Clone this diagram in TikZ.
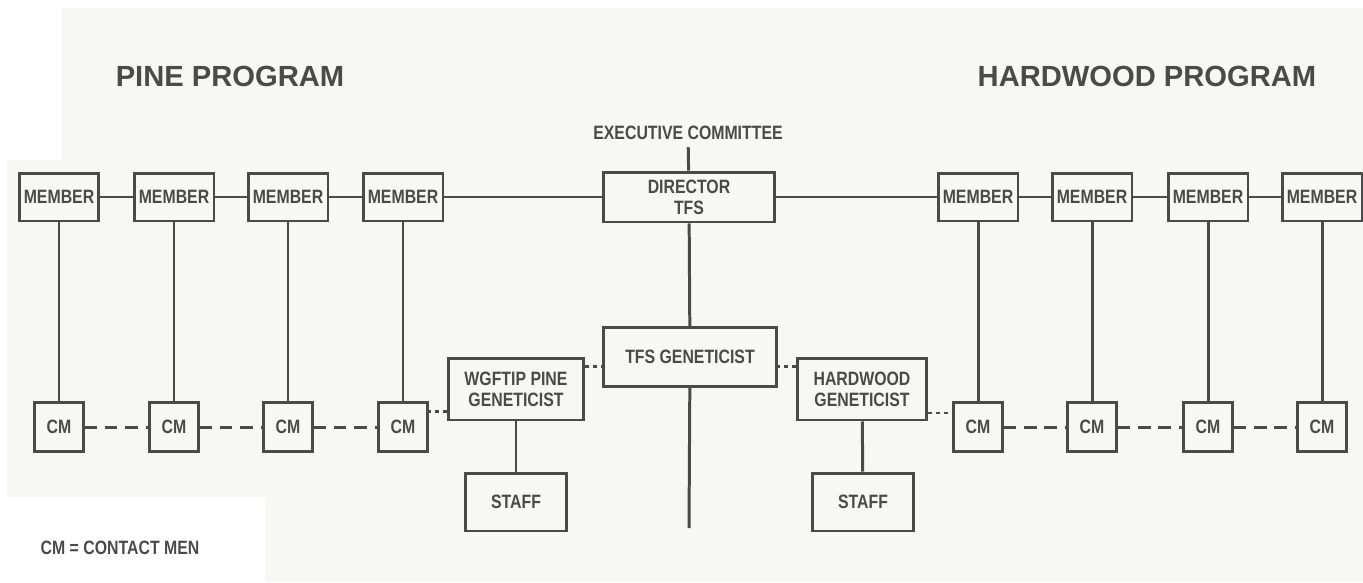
\documentclass[tikz,border=0pt]{standalone}
\usepackage{fontspec}
\setmainfont{Liberation Sans}[FakeStretch=0.82]
\newfontfamily\titlefont{Liberation Sans}
\usepackage{xcolor}
\usepackage{tikz}
\usetikzlibrary{positioning}
\definecolor{ink}{HTML}{4A4A4A}
\definecolor{paper}{HTML}{F7F7F5}

\begin{document}
\begin{tikzpicture}[x=0.02cm, y=-0.02cm, line width=1.7pt, draw=ink,
  box/.style={draw=ink,align=center,text=ink,inner sep=0pt,
  font=\fontsize{11}{12}\selectfont\bfseries,minimum width=1.6cm,minimum height=0.96cm},
  cmbox/.style={box,minimum width=0.98cm,minimum height=0.98cm},
  title/.style={text=ink,font=\titlefont\bfseries\fontsize{16.6}{18}\selectfont},
  cmlink/.style={draw=ink,dash pattern=on 7pt off 4.5pt},
  dotlink/.style={draw=ink,dash pattern=on 2.5pt off 2pt}]
\useasboundingbox (0,0) rectangle (1363,582);
\fill[white] (0,0) rectangle (1363,582);
\fill[paper] (62,8) rectangle (1363,160);
\fill[paper] (7,160) rectangle (1363,497);
\fill[paper] (265,497) rectangle (1363,582);

\node[title] (pt) at (230,76) {PINE PROGRAM};
\node[title] (ht) at (1147,76) {HARDWOOD PROGRAM};
\node[text=ink,font=\fontsize{11}{12}\selectfont\bfseries] (ec) at (688,133) {EXECUTIVE COMMITTEE};

\node[box,minimum width=3.44cm,minimum height=1cm] (dir) at (689,197) {DIRECTOR\\TFS};
\node[box] (m1) at (59,197) {MEMBER};
\node[box] (m2) at (174,197) {MEMBER};
\node[box] (m3) at (288,197) {MEMBER};
\node[box] (m4) at (403,197) {MEMBER};
\node[box] (h1) at (978,197) {MEMBER};
\node[box] (h2) at (1092,197) {MEMBER};
\node[box] (h3) at (1208,197) {MEMBER};
\node[box] (h4) at (1322,197) {MEMBER};

\node[cmbox] (cm1) at (59,427) {CM};
\node[cmbox] (cm2) at (174,427) {CM};
\node[cmbox] (cm3) at (288,427) {CM};
\node[cmbox] (cm4) at (403,427) {CM};
\node[cmbox] (ch1) at (978,427) {CM};
\node[cmbox] (ch2) at (1092,427) {CM};
\node[cmbox] (ch3) at (1208,427) {CM};
\node[cmbox] (ch4) at (1322,427) {CM};

\node[box,minimum width=3.46cm,minimum height=1.18cm] (tgen) at (690,357) {TFS GENETICIST};
\node[box,minimum width=2.7cm,minimum height=1.24cm] (pgen) at (516,389) {WGFTIP PINE\\GENETICIST};
\node[box,minimum width=2.58cm,minimum height=1.24cm] (hgen) at (862,389) {HARDWOOD\\GENETICIST};
\node[box,minimum width=2.02cm,minimum height=1.16cm] (pstaff) at (516,502) {STAFF};
\node[box,minimum width=2.02cm,minimum height=1.16cm] (hstaff) at (863,502) {STAFF};
\coordinate (stem) at (689,528);

\node[text=ink,font=\fontsize{11}{12}\selectfont\bfseries] (note) at (120,548) {CM = CONTACT MEN};

% member line and director
\draw (m1)--(m2); \draw (m2)--(m3); \draw (m3)--(m4); \draw (m4)--(dir);
\draw (dir)--(h1); \draw (h1)--(h2); \draw (h2)--(h3); \draw (h3)--(h4);
\draw (ec)--(dir); \draw (dir)--(tgen); \draw (tgen)--(stem);
\draw (m1)--(cm1); \draw (m2)--(cm2); \draw (m3)--(cm3); \draw (m4)--(cm4);
\draw (h1)--(ch1); \draw (h2)--(ch2); \draw (h3)--(ch3); \draw (h4)--(ch4);
\draw (pgen)--(pstaff); \draw (hgen)--(hstaff);

% contact men
\draw[cmlink] (cm1)--(cm2); \draw[cmlink] (cm2)--(cm3); \draw[cmlink] (cm3)--(cm4);
\draw[cmlink] (ch1)--(ch2); \draw[cmlink] (ch2)--(ch3); \draw[cmlink] (ch3)--(ch4);
\coordinate (pj) at ([yshift=0.2cm]pgen.south west);
\coordinate (hj) at ([yshift=0.17cm]hgen.south east);
\draw[dotlink] (pj)--(pj -| cm4.east); \draw[dotlink] (hj)--(hj -| ch1.west);
\coordinate (pt1) at ([yshift=-0.2cm]pgen.north east);
\coordinate (ht1) at ([yshift=-0.2cm]hgen.north west);
\draw[dotlink] (pt1)--(pt1 -| tgen.west); \draw[dotlink] (ht1)--(ht1 -| tgen.east);
\end{tikzpicture}
\end{document}
